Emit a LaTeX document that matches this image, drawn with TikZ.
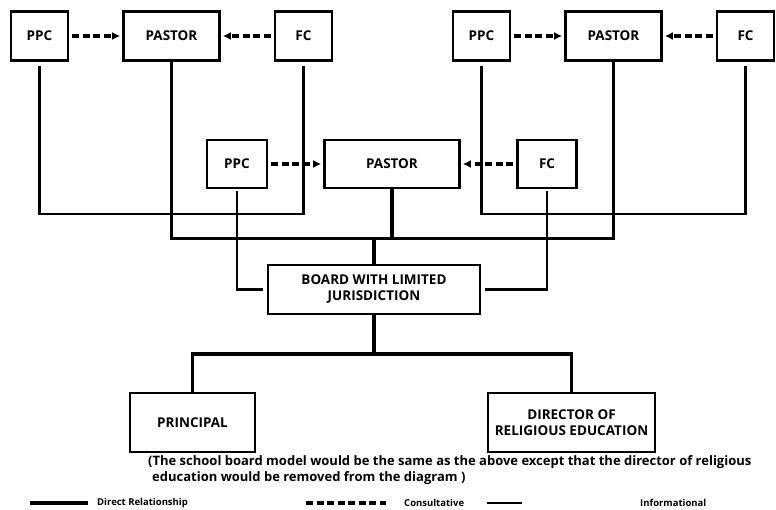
\documentclass[tikz,border=0pt]{standalone}
\usepackage{fontspec}
\setmainfont{Open Sans}
\usetikzlibrary{arrows.meta}

\begin{document}
\begin{tikzpicture}[x=1pt, y=-1pt]
\tikzstyle{main}=[rectangle, draw=black, line width=2.6pt, node distance=132, minimum height=49, inner sep=2pt, align=center, font=\bfseries\fontsize{13.5}{16}\selectfont]
\tikzstyle{small}=[main, minimum width=57]
\tikzstyle{wide}=[main, minimum width=96]
\tikzstyle{consult}=[-{Latex[length=8pt, width=8pt]}, line width=3.4pt, dash pattern=on 7pt off 3.5pt, shorten <=3pt, shorten >=2pt]
\tikzstyle{direct}=[line width=3.4pt]
\tikzstyle{inform}=[line width=2.2pt]
\tikzstyle{legend}=[inner sep=0pt, anchor=west, font=\bfseries\fontsize{9.5}{11}\selectfont]

  \useasboundingbox (0,0) rectangle (776,509);

  % top row, left parish and right parish
  \node[small] (ppcA)    at (39.5,36)         {PPC};
  \node[wide]  (pastorA) [right of =ppcA]     {PASTOR};
  \node[small] (fcA)     [right of =pastorA]  {FC};

  \node[small] (ppcB)    [right of =fcA, xshift=46] {PPC};
  \node[wide]  (pastorB) [right of =ppcB]     {PASTOR};
  \node[small] (fcB)     [right of =pastorB]  {FC};

  % middle parish
  \node[small, minimum width=60, minimum height=48] (ppcC)    at (237,164)                {PPC};
  \node[main,  minimum width=135, minimum height=48] (pastorC) [right of =ppcC, xshift=23] {PASTOR};
  \node[small, minimum width=59, minimum height=48] (fcC)     [right of =pastorC, xshift=23] {FC};

  \node[main, minimum width=212] (board) at (374,289.5) {BOARD WITH LIMITED\\JURISDICTION};

  \node[main, minimum width=125, minimum height=59] (principal) at (192.5,422.5) {PRINCIPAL};
  \node[main, minimum width=167, minimum height=59] (director)  [right of =principal, xshift=247] {DIRECTOR OF\\RELIGIOUS EDUCATION};

  \coordinate (infobus)   at (0,214);
  \coordinate (directbus) at (0,238.5);
  \coordinate (lowbus)    at (0,354);

  \draw[consult] (ppcA) -- (pastorA);
  \draw[consult] (fcA)  -- (pastorA);
  \draw[consult] (ppcB) -- (pastorB);
  \draw[consult] (fcB)  -- (pastorB);
  \draw[consult] (ppcC) -- (pastorC);
  \draw[consult] (fcC)  -- (pastorC);

  \draw[inform, shorten <=4pt] (ppcA.south) |- (fcA.south |- infobus) -- ([yshift=-4pt]fcA.south);
  \draw[inform, shorten <=4pt] (ppcB.south) |- (fcB.south |- infobus) -- ([yshift=-4pt]fcB.south);

  \draw[direct] (pastorA.south) |- (pastorB.south |- directbus) -- (pastorB.south);
  \draw[direct] (pastorC.south) -- (pastorC.south |- directbus);
  \draw[direct] (board.north |- directbus) -- (board.north);

  \draw[inform, shorten <=2pt, shorten >=4pt] (ppcC.south) |- (board.west);
  \draw[inform, shorten <=2pt, shorten >=4pt] (fcC.south)  |- (board.east);

  \draw[direct] (board.south) -- (board.south |- lowbus);
  \draw[direct] (principal.north) |- (director.north |- lowbus) -- (director.north);

  \node[anchor=north west, inner sep=0pt, align=left, font=\bfseries\fontsize{13}{16}\selectfont] (note) at (148,455)
    {(The school board model would be the same as the above except that the director of religious\\
    \hspace*{4pt}education would be removed from the diagram )};

  % key
  \node[legend] (keyDirect)  at (97,503)  {Direct Relationship};
  \node[legend] (keyConsult) at (404,503) {Consultative};
  \node[legend] (keyInform)  at (640,503) {Informational};
  \coordinate (startDirect)  at (30,503);
  \coordinate (startConsult) at (306,503);
  \coordinate (startInform)  at (487,503);
  \draw[direct, shorten >=9pt] (startDirect) -- (keyDirect.west);
  \draw[line width=3.4pt, dash pattern=on 7pt off 3.5pt, shorten >=18pt] (startConsult) -- (keyConsult.west);
  \draw[inform, line width=2.6pt, shorten >=118pt] (startInform) -- (keyInform.west);

\end{tikzpicture}
\end{document}
